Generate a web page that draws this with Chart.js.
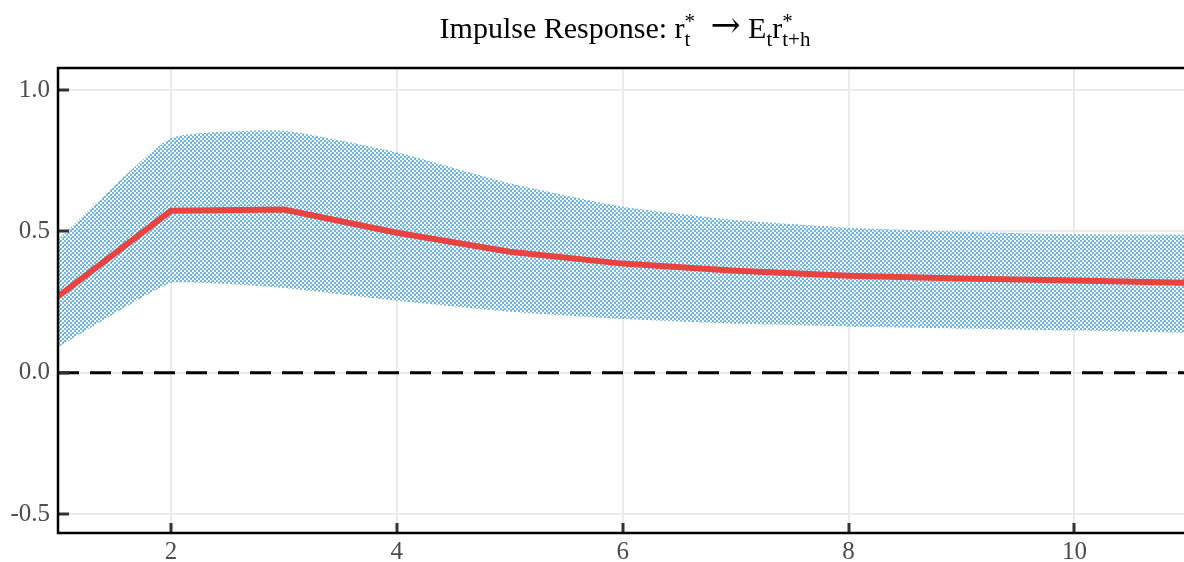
<!DOCTYPE html>
<html>
<head>
<meta charset="utf-8">
<script src="https://cdn.jsdelivr.net/npm/chart.js@4.4.1/dist/chart.umd.min.js"></script>
<style>
  html, body { margin: 0; padding: 0; background: #fff; }
  #wrap { width: 1184px; height: 562px; position: relative; }
</style>
</head>
<body>
<div id="wrap"><canvas id="irf"></canvas></div>
<script>
// horizons and impulse response bands
const horizons = [1, 2, 3, 4, 5, 6, 7, 8, 9, 10, 11];
const median = [0.27, 0.573, 0.577, 0.495, 0.428, 0.386, 0.361, 0.343, 0.333, 0.326, 0.318];
const upper = [0.47, 0.83, 0.856, 0.78, 0.67, 0.587, 0.54, 0.513, 0.499, 0.49, 0.488];
const lower = [0.09, 0.318, 0.30, 0.255, 0.216, 0.19, 0.173, 0.163, 0.156, 0.149, 0.14];
const zeroLine = [0, 0, 0, 0, 0, 0, 0, 0, 0, 0, 0];
const xTicks = [2, 4, 6, 8, 10];
const yTicks = [-0.5, 0, 0.5, 1.0];

const pts = arr => arr.map((v, i) => ({ x: horizons[i], y: v }));

// crosshatch fill for the band
function makePattern() {
    const c = document.createElement('canvas');
    c.width = 8; c.height = 8;
    const g = c.getContext('2d');
    g.fillStyle = '#6cb9e7';
    for (let i = 0; i < 4; i++) {
        for (let j = 0; j < 4; j++) {
            if ((i + j) % 2 === 0) g.fillRect(i * 2, j * 2, 2, 2);
        }
    }
    g.fillRect(3, 1, 1, 1);
    g.fillRect(7, 5, 1, 1);
    return g.createPattern(c, 'repeat');
}

const serif = '"Liberation Serif", "DejaVu Serif", serif';

// title with sub/superscripts, inward ticks and frame
const decor = {
    id: 'decor',
    afterDraw(chart) {
        const ctx = chart.ctx;
        const area = chart.chartArea;
        const xs = chart.scales.x, ys = chart.scales.y;
        ctx.save();
        // inward ticks
        ctx.strokeStyle = '#333333';
        ctx.lineWidth = 3;
        ctx.beginPath();
        yTicks.forEach(v => {
            const y = Math.round(ys.getPixelForValue(v));
            ctx.moveTo(area.left, y);
            ctx.lineTo(area.left + 11, y);
        });
        xTicks.forEach(v => {
            const x = Math.round(xs.getPixelForValue(v));
            ctx.moveTo(x, area.bottom);
            ctx.lineTo(x, area.bottom - 10);
        });
        ctx.stroke();
        // frame: left, top, bottom
        ctx.strokeStyle = '#000';
        ctx.lineWidth = 2.5;
        ctx.beginPath();
        ctx.moveTo(chart.width, area.top);
        ctx.lineTo(area.left, area.top);
        ctx.lineTo(area.left, area.bottom);
        ctx.lineTo(chart.width, area.bottom);
        ctx.stroke();

        // title
        const big = '30px ' + serif, small = '21px ' + serif;
        const arrow = '36px "DejaVu Serif", serif';
        const parts = [
            { t: 'Impulse Response: r', f: big, dy: 0 },
            { t: 't', f: small, dy: 8, stack: '*' },
            { t: '', f: big, dy: 0, gap: 20 },
            { t: '\u2192', f: arrow, dy: -1 },
            { t: ' E', f: big, dy: 0 },
            { t: 't', f: small, dy: 8 },
            { t: 'r', f: big, dy: 0 },
            { t: 't+h', f: small, dy: 8, stack: '*' }
        ];
        let total = 0;
        parts.forEach(p => {
            ctx.font = p.f;
            p.w = p.gap || ctx.measureText(p.t).width;
            total += p.w;
        });
        let x = 625 - total / 2;
        const base = 38;
        ctx.fillStyle = '#000';
        ctx.textBaseline = 'alphabetic';
        ctx.textAlign = 'left';
        parts.forEach(p => {
            ctx.font = p.f;
            ctx.fillText(p.t, x, base + p.dy);
            if (p.stack) {
                ctx.font = small;
                ctx.fillText(p.stack, x, base - 10);
            }
            x += p.w;
        });
        ctx.restore();
    }
};

new Chart(document.getElementById('irf'), {
    type: 'line',
    data: {
        datasets: [
            {
                label: 'upper',
                data: pts(upper),
                borderWidth: 0,
                pointRadius: 0,
                fill: '+1',
                backgroundColor: makePattern(),
                tension: 0.15,
                order: 3
            },
            {
                label: 'lower',
                data: pts(lower),
                borderWidth: 0,
                pointRadius: 0,
                fill: false,
                tension: 0.1,
                order: 3
            },
            {
                label: 'zero',
                data: pts(zeroLine),
                borderColor: '#000',
                borderWidth: 3,
                borderDash: [21, 11],
                pointRadius: 0,
                fill: false,
                order: 2
            },
            {
                label: 'median',
                data: pts(median),
                borderColor: '#e8433f',
                borderWidth: 6,
                pointRadius: 0,
                fill: false,
                tension: 0,
                order: 1
            }
        ]
    },
    options: {
        responsive: true,
        maintainAspectRatio: false,
        animation: false,
        layout: { padding: { top: 68, right: 0, left: 0, bottom: 0 } },
        plugins: {
            legend: { display: false },
            title: { display: false },
            tooltip: { enabled: false }
        },
        scales: {
            x: {
                type: 'linear',
                min: 1,
                max: 10.97,
                afterFit: s => { s.height = 29; },
                afterBuildTicks: s => { s.ticks = xTicks.map(v => ({ value: v })); },
                grid: { color: '#ebebeb', lineWidth: 2, drawTicks: false },
                border: { display: false },
                ticks: {
                    padding: 4,
                    color: '#4d4d4d',
                    font: { family: serif, size: 25 },
                    callback: v => String(v)
                }
            },
            y: {
                min: -0.567,
                max: 1.078,
                afterFit: s => { s.width = 58; },
                afterBuildTicks: s => { s.ticks = yTicks.map(v => ({ value: v })); },
                grid: { color: '#ebebeb', lineWidth: 2, drawTicks: false },
                border: { display: false },
                ticks: {
                    padding: 8,
                    color: '#4d4d4d',
                    font: { family: serif, size: 25 },
                    callback: v => v.toFixed(1)
                }
            }
        }
    },
    plugins: [decor]
});
</script>
</body>
</html>
